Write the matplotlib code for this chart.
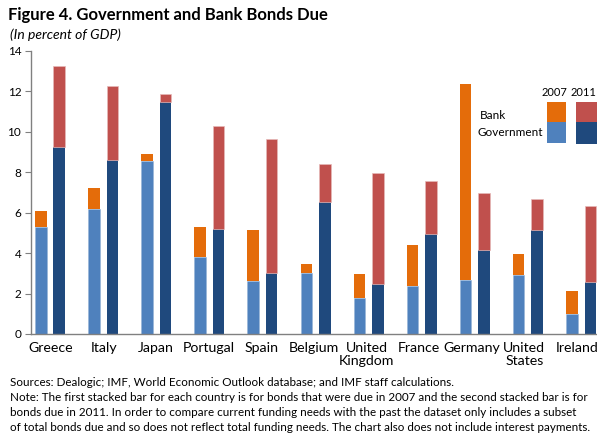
import matplotlib
matplotlib.use("Agg")
import matplotlib.pyplot as plt
import numpy as np
from matplotlib.patches import Rectangle

countries = ["Greece", "Italy", "Japan", "Portugal", "Spain", "Belgium",
             "United\nKingdom", "France", "Germany", "United\nStates", "Ireland"]
gov_2007 = [5.28, 6.17, 8.55, 3.79, 2.62, 3.00, 1.78, 2.38, 2.67, 2.90, 0.97]
bank_2007 = [0.79, 1.04, 0.34, 1.49, 2.51, 0.45, 1.17, 2.01, 9.69, 1.04, 1.14]
gov_2011 = [9.24, 8.58, 11.46, 5.18, 2.99, 6.52, 2.49, 4.93, 4.13, 5.12, 2.59]
bank_2011 = [4.02, 3.69, 0.39, 5.10, 6.64, 1.88, 5.49, 2.64, 2.82, 1.53, 3.73]
yticks = [0, 2, 4, 6, 8, 10, 12, 14]

c_gov07 = "#4F81BD"
c_bank07 = "#E46C0A"
c_gov11 = "#1F497D"
c_bank11 = "#C0504D"

FONT = "Lato"
plt.rcParams['font.family'] = [FONT, 'DejaVu Sans']

fig = plt.figure(figsize=(5.97, 4.41), dpi=100)
ax = fig.add_axes([31/597, 1-334/441, 1-31/597, (334-50.7)/441])

x = np.arange(len(countries))
off = 0.174
w = 0.217
ax.bar(x - off, gov_2007, w, color=c_gov07, edgecolor="#95B3D7", linewidth=0.4)
ax.bar(x - off, bank_2007, w, bottom=gov_2007, color=c_bank07, linewidth=0)
ax.bar(x + off, gov_2011, w, color=c_gov11, linewidth=0)
ax.bar(x + off, bank_2011, w, bottom=gov_2011, color=c_bank11, edgecolor="#E6B9B8", linewidth=0.5)

ax.set_xlim(-0.358, 10.30)
ax.set_ylim(0, 14)
ax.set_yticks(yticks)
ax.set_yticklabels([str(t) for t in yticks], fontsize=8.5)

ax.set_xticks(x * 0.99 + 0.02)
ax.set_xticklabels(countries, fontsize=10.2, linespacing=1.05)
ax.tick_params(axis='x', length=0, pad=6)
ax.tick_params(axis='y', length=4, color="#808080", direction='out', pad=3)

for s in ["top", "right"]:
    ax.spines[s].set_visible(False)
for s in ["left", "bottom"]:
    ax.spines[s].set_color("#808080")
    ax.spines[s].set_linewidth(1.0)

# Title / subtitle
fig.text(8/597, 1-20/441, "Figure 4. Government and Bank Bonds Due", fontsize=12,
         fontweight='bold', ha='left', va='baseline')
fig.text(10/597, 1-39/441, "(In percent of GDP)", fontsize=10, style='italic',
         ha='left', va='baseline')

# Legend (manual)
def frect(x0, y0, x1, y1, color):
    fig.patches.append(Rectangle((x0/597, 1-y1/441), (x1-x0)/597, (y1-y0)/441,
                                 transform=fig.transFigure, color=color, lw=0))
frect(547, 102, 566, 121.7, c_bank07)
frect(547, 121.7, 566, 143, c_gov07)
frect(576, 102, 597, 122, c_bank11)
frect(576, 122, 597, 144, c_gov11)
fig.text(542/597, 1-92/441, "2007", fontsize=8, ha='left', va='center')
fig.text(596/597, 1-92/441, "2011", fontsize=8, ha='right', va='center')
fig.text(480/597, 1-116/441, "Bank", fontsize=8.5, ha='left', va='center')
fig.text(478/597, 1-133/441, "Government", fontsize=8.5, ha='left', va='center')

# Footnotes
notes = [
    (386, "Sources: Dealogic; IMF, World Economic Outlook database; and IMF staff calculations."),
    (401, "Note: The first stacked bar for each country is for bonds that were due in 2007 and the second stacked bar is for"),
    (416, "bonds due in 2011. In order to compare current funding needs with the past the dataset only includes a subset"),
    (431, "of total bonds due and so does not reflect total funding needs. The chart also does not include interest payments."),
]
for yy, t in notes:
    fig.text(10/597, 1-yy/441, t, fontsize=8.35, ha='left', va='baseline')

fig.savefig("out.png", dpi=100)
